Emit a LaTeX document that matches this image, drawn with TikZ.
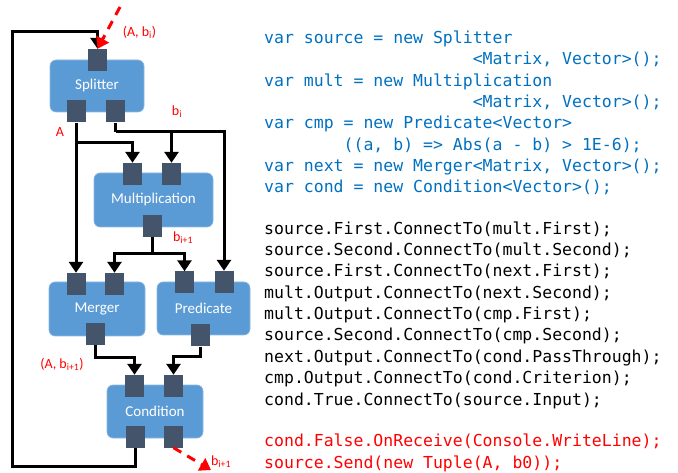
\documentclass[tikz,border=0pt]{standalone}
\usepackage{fontspec}
\setmainfont{Carlito}
\setmonofont{DejaVu Sans Mono}
\usetikzlibrary{arrows.meta}
\definecolor{boxblue}{HTML}{5B9BD5}
\definecolor{boxedge}{HTML}{8DB8E2}
\definecolor{portgray}{HTML}{44546A}
\definecolor{codeblue}{HTML}{0070C0}
\definecolor{sigred}{HTML}{FF0000}

\begin{document}
\begin{tikzpicture}[x=1pt, y=-1pt,
      blk/.style={draw=boxedge, line width=0.6pt, fill=boxblue, rounded corners=6pt,
        text=white, font=\fontsize{15}{18}\selectfont, inner sep=0pt},
      port/.style={fill=portgray, minimum width=19pt, minimum height=22pt, inner sep=0pt},
      wire/.style={line width=3pt},
      flow/.style={line width=3pt, -{Triangle[length=11pt,width=14pt]}},
      sig/.style={line width=3pt, draw=sigred, dash pattern=on 9pt off 7pt,
        -{Triangle[length=11pt,width=14pt]}},
      lbl/.style={text=sigred, font=\fontsize{14}{16}\selectfont, inner sep=0pt},
      code/.style={font=\ttfamily\fontsize{16.5}{21.35}\selectfont, align=left,
        anchor=base west, inner sep=0pt}
    ]
    \useasboundingbox (0,0) rectangle (678,473);
    % blocks
    \node[blk, minimum width=94pt,  minimum height=52pt] (splitter)  at (97,86)      {Splitter};
    \node[blk, minimum width=119pt, minimum height=54pt] (mult)      at (153.5,200)  {Multiplication};
    \node[blk, minimum width=96pt,  minimum height=54pt] (merger)    at (97,309)     {Merger};
    \node[blk, minimum width=93pt,  minimum height=53pt] (predicate) at (203.5,308.5) {Predicate};
    \node[blk, minimum width=96pt,  minimum height=53pt] (condition) at (155,411.5)  {Condition};
    % ports
    \node[port] (spIn) at (97.5,60)    {};
    \node[port] (spA)  at (76,111.5)   {};
    \node[port] (spB)  at (115.5,111.5) {};
    \node[port] (muA)  at (132.5,174)  {};
    \node[port] (muB)  at (171.5,174)  {};
    \node[port] (muO)  at (152.5,226)  {};
    \node[port] (meA)  at (76,284)     {};
    \node[port] (meB)  at (114.5,284)  {};
    \node[port] (meO)  at (95,334)     {};
    \node[port] (prA)  at (184.5,282.5) {};
    \node[port] (prB)  at (224,282)    {};
    \node[port] (prO)  at (200,335.5)  {};
    \node[port] (coA)  at (134.5,386)  {};
    \node[port] (coB)  at (173.5,386)  {};
    \node[port] (coT)  at (135.5,436.5) {};
    \node[port] (coF)  at (173.5,436.5) {};
    % connectors
    \coordinate (brA)    at (76,143);
    \coordinate (brB)    at (115.5,132);
    \coordinate (brM)    at (152.5,254);
    \coordinate (loopSW) at (12,466);
    \coordinate (loopNW) at (12,32);
    \coordinate (inSrc)  at (120,7);
    \coordinate (outDst) at (211,470);
    \draw[flow] (spA.south) -- (spA.south |- meA.north);
    \draw[flow] (brA) -| (muA.north);
    \draw[wire] (spB.south) -- (brB);
    \draw[flow] (brB) -| (prB.north);
    \draw[flow] (muB.north |- brB) -- (muB.north);
    \draw[wire] (muO.south) -- (brM);
    \draw[flow] (brM) -| (meB.north);
    \draw[flow] (brM) -| (prA.north);
    \draw[flow] (meO.south) -- ++(0,12) -| (coA.north);
    \draw[flow] (prO.south) -- ++(0,10) -| (coB.north);
    \draw[flow] (coT.south) |- (loopSW) -- (loopNW) -| (spIn.north);
    \draw[sig] (inSrc) -- (spIn.north);
    \draw[sig] (coF.south) -- (outDst);
    % labels
    \node[lbl] (lIn)   at (139.5,32) {(A, b\textsubscript{i})};
    \node[lbl] (lA)    at (60,132)   {A};
    \node[lbl] (lB)    at (177,112)  {b\textsubscript{i}};
    \node[lbl] (lM)    at (183,238)  {b\textsubscript{i+1}};
    \node[lbl] (lMe)   at (62,364)   {(A, b\textsubscript{i+1})};
    \node[lbl] (lOut)  at (221,462)  {b\textsubscript{i+1}};
    % code (base = last line)
    \node[code, text=codeblue] (decl) at (264,193) {var source = new Splitter\\
      \hspace*{12.643em}<Matrix, Vector>();\\
      var mult = new Multiplication\\
      \hspace*{12.643em}<Matrix, Vector>();\\
      var cmp = new Predicate<Vector>\\
      \hspace*{4.816em}((a, b) => Abs(a - b) > 1E-6);\\
      var next = new Merger<Matrix, Vector>();\\
      var cond = new Condition<Vector>();};
    \node[code] (wiring) at (264,405) {source.First.ConnectTo(mult.First);\\
      source.Second.ConnectTo(mult.Second);\\
      source.First.ConnectTo(next.First);\\
      mult.Output.ConnectTo(next.Second);\\
      mult.Output.ConnectTo(cmp.First);\\
      source.Second.ConnectTo(cmp.Second);\\
      next.Output.ConnectTo(cond.PassThrough);\\
      cmp.Output.ConnectTo(cond.Criterion);\\
      cond.True.ConnectTo(source.Input);};
    \node[code, text=sigred] (run) at (264,468) {cond.False.OnReceive(Console.WriteLine);\\
      source.Send(new Tuple(A, b0));};
  \end{tikzpicture}
\end{document}
